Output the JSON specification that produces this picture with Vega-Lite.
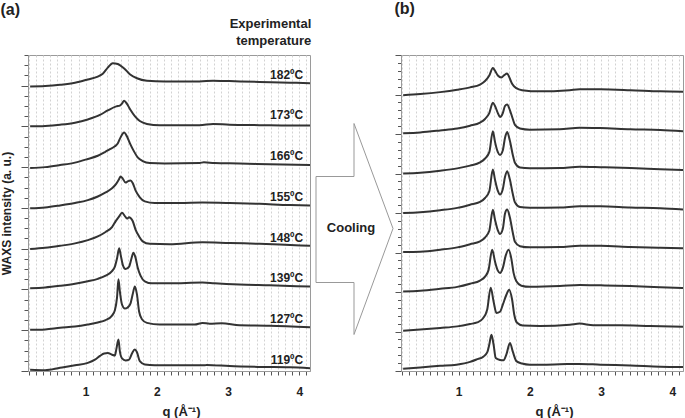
{
  "$schema": "https://vega.github.io/schema/vega-lite/v6.json",
  "padding": 0,
  "background": "white",
  "config": {
    "font": "Liberation Sans",
    "view": {"stroke": "#9a9a9a", "strokeWidth": 1},
    "axis": {"domainColor": "#9a9a9a", "tickColor": "#555555", "labelFont": "Liberation Sans", "labelFontSize": 12, "labelFontWeight": "bold", "labelColor": "#222222", "titleFont": "Liberation Sans", "titleFontWeight": "bold", "titleColor": "#222222", "labelOverlap": false, "labelBound": false, "labelFlush": false},
    "title": {"font": "Liberation Sans", "fontSize": 16, "fontWeight": "bold", "anchor": "start", "frame": "bounds", "color": "#222222"}
  },
  "datasets": {
    "left": [
      {"s":"182","q":0.22,"v":6.98},{"s":"182","q":0.43,"v":6.99},{"s":"182","q":0.64,"v":7.02},{"s":"182","q":0.85,"v":7.07},{"s":"182","q":1.03,"v":7.15},{"s":"182","q":1.17,"v":7.22},{"s":"182","q":1.24,"v":7.29},{"s":"182","q":1.31,"v":7.44},{"s":"182","q":1.38,"v":7.55},{"s":"182","q":1.45,"v":7.53},{"s":"182","q":1.54,"v":7.42},{"s":"182","q":1.62,"v":7.28},{"s":"182","q":1.72,"v":7.18},{"s":"182","q":1.86,"v":7.12},{"s":"182","q":2.11,"v":7.10},{"s":"182","q":2.60,"v":7.10},{"s":"182","q":2.79,"v":7.12},{"s":"182","q":3.02,"v":7.11},{"s":"182","q":3.44,"v":7.09},{"s":"182","q":3.87,"v":7.07},{"s":"182","q":4.15,"v":7.06},
      {"s":"173","q":0.22,"v":6.00},{"s":"173","q":0.43,"v":6.01},{"s":"173","q":0.64,"v":6.04},{"s":"173","q":0.85,"v":6.09},{"s":"173","q":1.03,"v":6.17},{"s":"173","q":1.20,"v":6.28},{"s":"173","q":1.31,"v":6.39},{"s":"173","q":1.43,"v":6.49},{"s":"173","q":1.48,"v":6.51},{"s":"173","q":1.51,"v":6.56},{"s":"173","q":1.54,"v":6.63},{"s":"173","q":1.58,"v":6.55},{"s":"173","q":1.63,"v":6.40},{"s":"173","q":1.69,"v":6.25},{"s":"173","q":1.76,"v":6.13},{"s":"173","q":1.86,"v":6.06},{"s":"173","q":2.04,"v":6.03},{"s":"173","q":2.60,"v":6.03},{"s":"173","q":2.79,"v":6.06},{"s":"173","q":3.02,"v":6.04},{"s":"173","q":3.44,"v":6.03},{"s":"173","q":3.87,"v":6.02},{"s":"173","q":4.15,"v":6.02},
      {"s":"166","q":0.22,"v":4.98},{"s":"166","q":0.43,"v":5.00},{"s":"166","q":0.64,"v":5.05},{"s":"166","q":0.85,"v":5.11},{"s":"166","q":1.03,"v":5.20},{"s":"166","q":1.17,"v":5.28},{"s":"166","q":1.27,"v":5.37},{"s":"166","q":1.34,"v":5.44},{"s":"166","q":1.41,"v":5.51},{"s":"166","q":1.45,"v":5.58},{"s":"166","q":1.49,"v":5.73},{"s":"166","q":1.54,"v":5.85},{"s":"166","q":1.58,"v":5.75},{"s":"166","q":1.62,"v":5.59},{"s":"166","q":1.68,"v":5.38},{"s":"166","q":1.73,"v":5.24},{"s":"166","q":1.80,"v":5.15},{"s":"166","q":1.90,"v":5.10},{"s":"166","q":2.11,"v":5.09},{"s":"166","q":2.60,"v":5.10},{"s":"166","q":2.66,"v":5.12},{"s":"166","q":2.81,"v":5.10},{"s":"166","q":3.16,"v":5.09},{"s":"166","q":3.58,"v":5.07},{"s":"166","q":4.15,"v":5.05},
      {"s":"155","q":0.22,"v":3.99},{"s":"155","q":0.43,"v":4.01},{"s":"155","q":0.64,"v":4.06},{"s":"155","q":0.85,"v":4.12},{"s":"155","q":1.03,"v":4.19},{"s":"155","q":1.17,"v":4.28},{"s":"155","q":1.28,"v":4.38},{"s":"155","q":1.37,"v":4.48},{"s":"155","q":1.42,"v":4.57},{"s":"155","q":1.47,"v":4.71},{"s":"155","q":1.49,"v":4.77},{"s":"155","q":1.52,"v":4.72},{"s":"155","q":1.56,"v":4.62},{"s":"155","q":1.59,"v":4.65},{"s":"155","q":1.63,"v":4.67},{"s":"155","q":1.66,"v":4.61},{"s":"155","q":1.70,"v":4.43},{"s":"155","q":1.76,"v":4.26},{"s":"155","q":1.83,"v":4.16},{"s":"155","q":1.97,"v":4.12},{"s":"155","q":2.32,"v":4.12},{"s":"155","q":2.64,"v":4.13},{"s":"155","q":3.02,"v":4.12},{"s":"155","q":3.44,"v":4.10},{"s":"155","q":3.87,"v":4.07},{"s":"155","q":4.15,"v":4.06},
      {"s":"148","q":0.22,"v":2.99},{"s":"148","q":0.43,"v":3.02},{"s":"148","q":0.64,"v":3.07},{"s":"148","q":0.85,"v":3.13},{"s":"148","q":1.03,"v":3.21},{"s":"148","q":1.17,"v":3.30},{"s":"148","q":1.28,"v":3.41},{"s":"148","q":1.37,"v":3.53},{"s":"148","q":1.42,"v":3.67},{"s":"148","q":1.47,"v":3.79},{"s":"148","q":1.51,"v":3.88},{"s":"148","q":1.55,"v":3.80},{"s":"148","q":1.58,"v":3.74},{"s":"148","q":1.61,"v":3.77},{"s":"148","q":1.63,"v":3.75},{"s":"148","q":1.66,"v":3.68},{"s":"148","q":1.70,"v":3.47},{"s":"148","q":1.75,"v":3.30},{"s":"148","q":1.80,"v":3.18},{"s":"148","q":1.90,"v":3.12},{"s":"148","q":2.18,"v":3.11},{"s":"148","q":2.64,"v":3.16},{"s":"148","q":3.02,"v":3.14},{"s":"148","q":3.44,"v":3.12},{"s":"148","q":3.87,"v":3.09},{"s":"148","q":4.15,"v":3.07},
      {"s":"139","q":0.22,"v":2.03},{"s":"139","q":0.43,"v":2.05},{"s":"139","q":0.64,"v":2.09},{"s":"139","q":0.85,"v":2.14},{"s":"139","q":1.03,"v":2.20},{"s":"139","q":1.17,"v":2.26},{"s":"139","q":1.28,"v":2.34},{"s":"139","q":1.37,"v":2.45},{"s":"139","q":1.41,"v":2.56},{"s":"139","q":1.44,"v":2.76},{"s":"139","q":1.47,"v":3.01},{"s":"139","q":1.49,"v":2.86},{"s":"139","q":1.52,"v":2.61},{"s":"139","q":1.56,"v":2.50},{"s":"139","q":1.61,"v":2.56},{"s":"139","q":1.64,"v":2.74},{"s":"139","q":1.67,"v":2.90},{"s":"139","q":1.70,"v":2.78},{"s":"139","q":1.73,"v":2.54},{"s":"139","q":1.77,"v":2.34},{"s":"139","q":1.83,"v":2.20},{"s":"139","q":1.93,"v":2.15},{"s":"139","q":2.18,"v":2.15},{"s":"139","q":2.64,"v":2.17},{"s":"139","q":2.81,"v":2.15},{"s":"139","q":3.16,"v":2.12},{"s":"139","q":3.58,"v":2.10},{"s":"139","q":4.15,"v":2.07},
      {"s":"127","q":0.22,"v":1.01},{"s":"127","q":0.43,"v":1.02},{"s":"127","q":0.64,"v":1.06},{"s":"127","q":0.85,"v":1.09},{"s":"127","q":1.03,"v":1.14},{"s":"127","q":1.17,"v":1.19},{"s":"127","q":1.28,"v":1.25},{"s":"127","q":1.37,"v":1.36},{"s":"127","q":1.41,"v":1.49},{"s":"127","q":1.44,"v":1.80},{"s":"127","q":1.46,"v":2.25},{"s":"127","q":1.48,"v":1.95},{"s":"127","q":1.51,"v":1.63},{"s":"127","q":1.55,"v":1.53},{"s":"127","q":1.59,"v":1.56},{"s":"127","q":1.63,"v":1.66},{"s":"127","q":1.66,"v":1.88},{"s":"127","q":1.69,"v":2.07},{"s":"127","q":1.72,"v":1.88},{"s":"127","q":1.75,"v":1.46},{"s":"127","q":1.79,"v":1.27},{"s":"127","q":1.86,"v":1.18},{"s":"127","q":2.04,"v":1.14},{"s":"127","q":2.53,"v":1.14},{"s":"127","q":2.64,"v":1.18},{"s":"127","q":2.74,"v":1.16},{"s":"127","q":2.91,"v":1.17},{"s":"127","q":3.16,"v":1.12},{"s":"127","q":3.58,"v":1.11},{"s":"127","q":4.15,"v":1.07},
      {"s":"119","q":0.22,"v":0.03},{"s":"119","q":0.43,"v":0.02},{"s":"119","q":0.64,"v":0.08},{"s":"119","q":0.85,"v":0.14},{"s":"119","q":1.03,"v":0.20},{"s":"119","q":1.13,"v":0.28},{"s":"119","q":1.20,"v":0.37},{"s":"119","q":1.26,"v":0.43},{"s":"119","q":1.31,"v":0.44},{"s":"119","q":1.37,"v":0.40},{"s":"119","q":1.41,"v":0.38},{"s":"119","q":1.43,"v":0.53},{"s":"119","q":1.46,"v":0.77},{"s":"119","q":1.48,"v":0.48},{"s":"119","q":1.51,"v":0.31},{"s":"119","q":1.56,"v":0.26},{"s":"119","q":1.61,"v":0.28},{"s":"119","q":1.65,"v":0.43},{"s":"119","q":1.69,"v":0.53},{"s":"119","q":1.72,"v":0.46},{"s":"119","q":1.76,"v":0.24},{"s":"119","q":1.83,"v":0.16},{"s":"119","q":1.97,"v":0.14},{"s":"119","q":2.67,"v":0.14},{"s":"119","q":2.70,"v":0.15},{"s":"119","q":3.02,"v":0.12},{"s":"119","q":3.44,"v":0.10},{"s":"119","q":3.87,"v":0.09},{"s":"119","q":4.15,"v":0.07}
    ],
    "leftLabels": [
      {"label":"182ºC","offset":7},{"label":"173ºC","offset":6},{"label":"166ºC","offset":5},{"label":"155ºC","offset":4},
      {"label":"148ºC","offset":3},{"label":"139ºC","offset":2},{"label":"127ºC","offset":1},{"label":"119ºC","offset":0}
    ],
    "header": [
      {"t":"Experimental","v":8.5},{"t":"temperature","v":8.09}
    ],
    "right": [
      {"s":"1","q":0.22,"v":6.98},{"s":"1","q":0.46,"v":7.01},{"s":"1","q":0.74,"v":7.06},{"s":"1","q":0.98,"v":7.12},{"s":"1","q":1.16,"v":7.18},{"s":"1","q":1.30,"v":7.25},{"s":"1","q":1.37,"v":7.34},{"s":"1","q":1.43,"v":7.48},{"s":"1","q":1.48,"v":7.67},{"s":"1","q":1.51,"v":7.60},{"s":"1","q":1.55,"v":7.48},{"s":"1","q":1.60,"v":7.43},{"s":"1","q":1.64,"v":7.49},{"s":"1","q":1.68,"v":7.53},{"s":"1","q":1.71,"v":7.44},{"s":"1","q":1.75,"v":7.27},{"s":"1","q":1.81,"v":7.16},{"s":"1","q":1.89,"v":7.11},{"s":"1","q":2.14,"v":7.08},{"s":"1","q":2.56,"v":7.11},{"s":"1","q":2.70,"v":7.13},{"s":"1","q":2.99,"v":7.13},{"s":"1","q":3.41,"v":7.11},{"s":"1","q":3.83,"v":7.08},{"s":"1","q":4.15,"v":7.07},
      {"s":"2","q":0.22,"v":6.02},{"s":"2","q":0.46,"v":6.04},{"s":"2","q":0.74,"v":6.09},{"s":"2","q":0.98,"v":6.14},{"s":"2","q":1.16,"v":6.21},{"s":"2","q":1.30,"v":6.29},{"s":"2","q":1.37,"v":6.38},{"s":"2","q":1.43,"v":6.53},{"s":"2","q":1.48,"v":6.79},{"s":"2","q":1.51,"v":6.71},{"s":"2","q":1.55,"v":6.53},{"s":"2","q":1.58,"v":6.43},{"s":"2","q":1.62,"v":6.53},{"s":"2","q":1.65,"v":6.71},{"s":"2","q":1.68,"v":6.75},{"s":"2","q":1.72,"v":6.60},{"s":"2","q":1.76,"v":6.38},{"s":"2","q":1.79,"v":6.23},{"s":"2","q":1.86,"v":6.14},{"s":"2","q":2.00,"v":6.11},{"s":"2","q":2.42,"v":6.12},{"s":"2","q":2.70,"v":6.16},{"s":"2","q":2.99,"v":6.15},{"s":"2","q":3.41,"v":6.12},{"s":"2","q":3.83,"v":6.10},{"s":"2","q":4.15,"v":6.07},
      {"s":"3","q":0.22,"v":5.00},{"s":"3","q":0.46,"v":5.02},{"s":"3","q":0.74,"v":5.07},{"s":"3","q":0.98,"v":5.13},{"s":"3","q":1.16,"v":5.20},{"s":"3","q":1.30,"v":5.28},{"s":"3","q":1.37,"v":5.38},{"s":"3","q":1.43,"v":5.54},{"s":"3","q":1.48,"v":6.07},{"s":"3","q":1.51,"v":5.80},{"s":"3","q":1.55,"v":5.54},{"s":"3","q":1.58,"v":5.47},{"s":"3","q":1.62,"v":5.59},{"s":"3","q":1.65,"v":5.90},{"s":"3","q":1.68,"v":6.05},{"s":"3","q":1.72,"v":5.82},{"s":"3","q":1.76,"v":5.47},{"s":"3","q":1.79,"v":5.27},{"s":"3","q":1.86,"v":5.15},{"s":"3","q":2.00,"v":5.13},{"s":"3","q":2.42,"v":5.14},{"s":"3","q":2.70,"v":5.17},{"s":"3","q":2.99,"v":5.16},{"s":"3","q":3.41,"v":5.14},{"s":"3","q":3.83,"v":5.11},{"s":"3","q":4.15,"v":5.09},
      {"s":"4","q":0.22,"v":4.00},{"s":"4","q":0.46,"v":4.02},{"s":"4","q":0.74,"v":4.07},{"s":"4","q":0.98,"v":4.13},{"s":"4","q":1.16,"v":4.21},{"s":"4","q":1.30,"v":4.28},{"s":"4","q":1.37,"v":4.38},{"s":"4","q":1.43,"v":4.55},{"s":"4","q":1.48,"v":5.10},{"s":"4","q":1.51,"v":4.84},{"s":"4","q":1.55,"v":4.56},{"s":"4","q":1.58,"v":4.47},{"s":"4","q":1.62,"v":4.61},{"s":"4","q":1.65,"v":4.91},{"s":"4","q":1.68,"v":5.06},{"s":"4","q":1.72,"v":4.84},{"s":"4","q":1.76,"v":4.48},{"s":"4","q":1.79,"v":4.27},{"s":"4","q":1.86,"v":4.15},{"s":"4","q":2.00,"v":4.13},{"s":"4","q":2.42,"v":4.14},{"s":"4","q":2.70,"v":4.17},{"s":"4","q":2.99,"v":4.17},{"s":"4","q":3.41,"v":4.14},{"s":"4","q":3.83,"v":4.12},{"s":"4","q":4.15,"v":4.09},
      {"s":"5","q":0.22,"v":3.01},{"s":"5","q":0.46,"v":3.02},{"s":"5","q":0.74,"v":3.07},{"s":"5","q":0.98,"v":3.13},{"s":"5","q":1.16,"v":3.21},{"s":"5","q":1.30,"v":3.28},{"s":"5","q":1.37,"v":3.38},{"s":"5","q":1.43,"v":3.55},{"s":"5","q":1.48,"v":4.08},{"s":"5","q":1.51,"v":3.83},{"s":"5","q":1.55,"v":3.56},{"s":"5","q":1.58,"v":3.47},{"s":"5","q":1.62,"v":3.60},{"s":"5","q":1.65,"v":3.98},{"s":"5","q":1.68,"v":4.09},{"s":"5","q":1.72,"v":3.88},{"s":"5","q":1.76,"v":3.50},{"s":"5","q":1.79,"v":3.27},{"s":"5","q":1.86,"v":3.16},{"s":"5","q":2.00,"v":3.13},{"s":"5","q":2.42,"v":3.14},{"s":"5","q":2.70,"v":3.17},{"s":"5","q":2.99,"v":3.17},{"s":"5","q":3.41,"v":3.14},{"s":"5","q":3.83,"v":3.12},{"s":"5","q":4.15,"v":3.11},
      {"s":"6","q":0.22,"v":2.01},{"s":"6","q":0.46,"v":2.03},{"s":"6","q":0.74,"v":2.08},{"s":"6","q":0.98,"v":2.13},{"s":"6","q":1.16,"v":2.21},{"s":"6","q":1.30,"v":2.29},{"s":"6","q":1.37,"v":2.39},{"s":"6","q":1.42,"v":2.56},{"s":"6","q":1.47,"v":3.07},{"s":"6","q":1.51,"v":2.77},{"s":"6","q":1.55,"v":2.54},{"s":"6","q":1.58,"v":2.48},{"s":"6","q":1.62,"v":2.61},{"s":"6","q":1.66,"v":2.92},{"s":"6","q":1.70,"v":3.07},{"s":"6","q":1.74,"v":2.84},{"s":"6","q":1.77,"v":2.49},{"s":"6","q":1.81,"v":2.27},{"s":"6","q":1.88,"v":2.16},{"s":"6","q":2.00,"v":2.13},{"s":"6","q":2.42,"v":2.15},{"s":"6","q":2.70,"v":2.18},{"s":"6","q":2.99,"v":2.17},{"s":"6","q":3.41,"v":2.15},{"s":"6","q":3.83,"v":2.12},{"s":"6","q":4.15,"v":2.10},
      {"s":"7","q":0.22,"v":1.02},{"s":"7","q":0.46,"v":1.05},{"s":"7","q":0.74,"v":1.09},{"s":"7","q":0.98,"v":1.13},{"s":"7","q":1.16,"v":1.19},{"s":"7","q":1.26,"v":1.23},{"s":"7","q":1.34,"v":1.33},{"s":"7","q":1.40,"v":1.55},{"s":"7","q":1.45,"v":2.11},{"s":"7","q":1.49,"v":1.76},{"s":"7","q":1.53,"v":1.47},{"s":"7","q":1.58,"v":1.50},{"s":"7","q":1.62,"v":1.68},{"s":"7","q":1.67,"v":1.93},{"s":"7","q":1.71,"v":2.06},{"s":"7","q":1.75,"v":1.81},{"s":"7","q":1.78,"v":1.43},{"s":"7","q":1.82,"v":1.22},{"s":"7","q":1.90,"v":1.15},{"s":"7","q":2.14,"v":1.14},{"s":"7","q":2.56,"v":1.17},{"s":"7","q":2.70,"v":1.20},{"s":"7","q":2.89,"v":1.16},{"s":"7","q":3.27,"v":1.16},{"s":"7","q":3.69,"v":1.14},{"s":"7","q":4.15,"v":1.12},
      {"s":"8","q":0.22,"v":0.06},{"s":"8","q":0.46,"v":0.09},{"s":"8","q":0.74,"v":0.13},{"s":"8","q":0.97,"v":0.16},{"s":"8","q":1.16,"v":0.23},{"s":"8","q":1.25,"v":0.29},{"s":"8","q":1.35,"v":0.37},{"s":"8","q":1.40,"v":0.47},{"s":"8","q":1.43,"v":0.67},{"s":"8","q":1.46,"v":0.92},{"s":"8","q":1.49,"v":0.67},{"s":"8","q":1.52,"v":0.33},{"s":"8","q":1.58,"v":0.28},{"s":"8","q":1.63,"v":0.27},{"s":"8","q":1.67,"v":0.42},{"s":"8","q":1.72,"v":0.71},{"s":"8","q":1.76,"v":0.49},{"s":"8","q":1.81,"v":0.25},{"s":"8","q":1.89,"v":0.19},{"s":"8","q":2.00,"v":0.16},{"s":"8","q":2.42,"v":0.17},{"s":"8","q":2.70,"v":0.18},{"s":"8","q":2.99,"v":0.16},{"s":"8","q":3.41,"v":0.14},{"s":"8","q":3.83,"v":0.11},{"s":"8","q":4.15,"v":0.10}
    ],
    "arrow": [
      {"o":1,"ax":6,"ay":194.5},{"o":2,"ax":44,"ay":194.5},{"o":3,"ax":44,"ay":247.5},{"o":4,"ax":83,"ay":142.5},
      {"o":5,"ax":44,"ay":36.5},{"o":6,"ax":44,"ay":88.5},{"o":7,"ax":6,"ay":88.5},{"o":8,"ax":6,"ay":194.5}
    ],
    "arrowText": [{"t":"Cooling","ax":41,"ay":143.5}]
  },
  "bounds": "flush",
  "spacing": 0,
  "hconcat": [
    {
      "width": 282,
      "height": 316,
      "title": {"text": "(a)", "offset": 0},
      "layer": [
        {
          "data": {"name": "left"},
          "mark": {"type": "line", "color": "#333333", "strokeWidth": 2, "interpolate": "monotone", "clip": true},
          "encoding": {
            "x": {"field": "q", "type": "quantitative", "scale": {"domain": [0.19, 4.15], "nice": false, "zero": false},
              "axis": {"values": [0.2,0.3,0.4,0.5,0.6,0.7,0.8,0.9,1,1.1,1.2,1.3,1.4,1.5,1.6,1.7,1.8,1.9,2,2.1,2.2,2.3,2.4,2.5,2.6,2.7,2.8,2.9,3,3.1,3.2,3.3,3.4,3.5,3.6,3.7,3.8,3.9,4,4.1],
                "labelExpr": "datum.value == 1 ? '1' : datum.value == 2 ? '2' : datum.value == 3 ? '3' : datum.value == 4 ? '4' : ''", "grid": true, "gridColor": "#d2d2d2", "gridDash": [2, 2], "gridWidth": 1,
                "tickSize": 4, "labelPadding": 11, "title": "q (Å⁻¹)", "titleFontSize": 13, "titlePadding": 8, "titleX": 153}},
            "y": {"field": "v", "type": "quantitative", "scale": {"domain": [0, 7.75], "nice": false, "zero": false},
              "axis": {"values": [0,0.25,0.5,0.75,1,1.25,1.5,1.75,2,2.25,2.5,2.75,3,3.25,3.5,3.75,4,4.25,4.5,4.75,5,5.25,5.5,5.75,6,6.25,6.5,6.75,7,7.25,7.5,7.75],
                "labels": false, "grid": false, "tickSize": {"condition": {"test": "datum.value % 1 === 0", "value": 7}, "value": 4},
                "title": "WAXS intensity (a. u.)", "titleFontSize": 12, "titlePadding": 7}},
            "detail": {"field": "s"}
          }
        },
        {
          "data": {"name": "leftLabels"},
          "mark": {"type": "text", "align": "right", "baseline": "middle", "fontSize": 12, "fontWeight": "bold", "color": "#222222", "dy": -11},
          "encoding": {
            "x": {"datum": 4.054, "type": "quantitative",
              "axis": {"values": [0.2,0.3,0.4,0.5,0.6,0.7,0.8,0.9,1,1.1,1.2,1.3,1.4,1.5,1.6,1.7,1.8,1.9,2,2.1,2.2,2.3,2.4,2.5,2.6,2.7,2.8,2.9,3,3.1,3.2,3.3,3.4,3.5,3.6,3.7,3.8,3.9,4,4.1],
                "labelExpr": "datum.value == 1 ? '1' : datum.value == 2 ? '2' : datum.value == 3 ? '3' : datum.value == 4 ? '4' : ''", "grid": true, "gridColor": "#d2d2d2", "gridDash": [2, 2], "gridWidth": 1,
                "tickSize": 4, "labelPadding": 11, "title": "q (Å⁻¹)", "titleFontSize": 13, "titlePadding": 8, "titleX": 153}},
            "y": {"field": "offset", "type": "quantitative",
              "axis": {"values": [0,0.25,0.5,0.75,1,1.25,1.5,1.75,2,2.25,2.5,2.75,3,3.25,3.5,3.75,4,4.25,4.5,4.75,5,5.25,5.5,5.75,6,6.25,6.5,6.75,7,7.25,7.5,7.75],
                "labels": false, "grid": false, "tickSize": {"condition": {"test": "datum.value % 1 === 0", "value": 7}, "value": 4},
                "title": "WAXS intensity (a. u.)", "titleFontSize": 12, "titlePadding": 7}},
            "text": {"field": "label"}
          }
        },
        {
          "data": {"name": "header"},
          "mark": {"type": "text", "align": "right", "baseline": "middle", "fontSize": 13, "fontWeight": "bold", "color": "#222222"},
          "encoding": {
            "x": {"datum": 4.168, "type": "quantitative",
              "axis": {"values": [0.2,0.3,0.4,0.5,0.6,0.7,0.8,0.9,1,1.1,1.2,1.3,1.4,1.5,1.6,1.7,1.8,1.9,2,2.1,2.2,2.3,2.4,2.5,2.6,2.7,2.8,2.9,3,3.1,3.2,3.3,3.4,3.5,3.6,3.7,3.8,3.9,4,4.1],
                "labelExpr": "datum.value == 1 ? '1' : datum.value == 2 ? '2' : datum.value == 3 ? '3' : datum.value == 4 ? '4' : ''", "grid": true, "gridColor": "#d2d2d2", "gridDash": [2, 2], "gridWidth": 1,
                "tickSize": 4, "labelPadding": 11, "title": "q (Å⁻¹)", "titleFontSize": 13, "titlePadding": 8, "titleX": 153}},
            "y": {"field": "v", "type": "quantitative",
              "axis": {"values": [0,0.25,0.5,0.75,1,1.25,1.5,1.75,2,2.25,2.5,2.75,3,3.25,3.5,3.75,4,4.25,4.5,4.75,5,5.25,5.5,5.75,6,6.25,6.5,6.75,7,7.25,7.5,7.75],
                "labels": false, "grid": false, "tickSize": {"condition": {"test": "datum.value % 1 === 0", "value": 7}, "value": 4},
                "title": "WAXS intensity (a. u.)", "titleFontSize": 12, "titlePadding": 7}},
            "text": {"field": "t"}
          }
        }
      ]
    },
    {
      "width": 91,
      "height": 316,
      "view": {"stroke": null},
      "layer": [
        {
          "data": {"name": "arrow"},
          "mark": {"type": "line", "color": "#999999", "strokeWidth": 1, "clip": false},
          "encoding": {
            "x": {"field": "ax", "type": "quantitative", "scale": {"domain": [0, 91], "nice": false, "zero": false}, "axis": null},
            "y": {"field": "ay", "type": "quantitative", "scale": {"domain": [0, 316], "nice": false, "zero": false}, "axis": null},
            "order": {"field": "o"}
          }
        },
        {
          "data": {"name": "arrowText"},
          "mark": {"type": "text", "align": "center", "baseline": "middle", "fontSize": 13, "fontWeight": "bold", "color": "#222222"},
          "encoding": {
            "x": {"field": "ax", "type": "quantitative", "axis": null},
            "y": {"field": "ay", "type": "quantitative", "axis": null},
            "text": {"field": "t"}
          }
        }
      ]
    },
    {
      "width": 282,
      "height": 316,
      "title": {"text": "(b)", "offset": 38},
      "data": {"name": "right"},
      "mark": {"type": "line", "color": "#333333", "strokeWidth": 2, "interpolate": "monotone", "clip": true},
      "encoding": {
        "x": {"field": "q", "type": "quantitative", "scale": {"domain": [0.19, 4.15], "nice": false, "zero": false},
          "axis": {"values": [0.2,0.3,0.4,0.5,0.6,0.7,0.8,0.9,1,1.1,1.2,1.3,1.4,1.5,1.6,1.7,1.8,1.9,2,2.1,2.2,2.3,2.4,2.5,2.6,2.7,2.8,2.9,3,3.1,3.2,3.3,3.4,3.5,3.6,3.7,3.8,3.9,4,4.1],
            "labelExpr": "datum.value == 1 ? '1' : datum.value == 2 ? '2' : datum.value == 3 ? '3' : datum.value == 4 ? '4' : ''", "grid": true, "gridColor": "#d2d2d2", "gridDash": [2, 2], "gridWidth": 1,
            "tickSize": 4, "labelPadding": 11, "title": "q (Å⁻¹)", "titleFontSize": 13, "titlePadding": 8, "titleX": 153}},
        "y": {"field": "v", "type": "quantitative", "scale": {"domain": [0, 8], "nice": false, "zero": false},
          "axis": {"values": [0,0.2,0.4,0.6,0.8,1,1.2,1.4,1.6,1.8,2,2.2,2.4,2.6,2.8,3,3.2,3.4,3.6,3.8,4,4.2,4.4,4.6,4.8,5,5.2,5.4,5.6,5.8,6,6.2,6.4,6.6,6.8,7,7.2,7.4,7.6,7.8,8],
            "labels": false, "grid": false, "tickSize": {"condition": {"test": "datum.value % 1 === 0", "value": 6}, "value": 3.5},
            "title": null}},
        "detail": {"field": "s"}
      }
    }
  ]
}
